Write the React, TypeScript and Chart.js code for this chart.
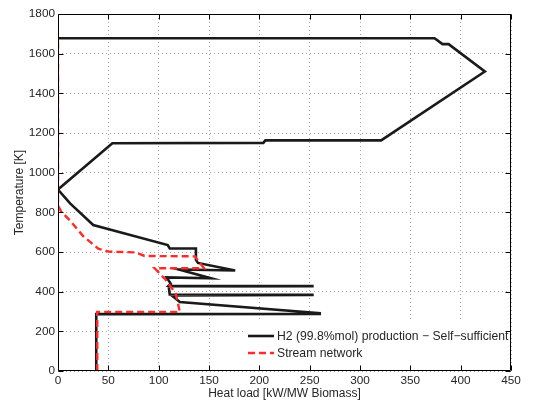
import React, { useEffect, useRef } from 'react';
import { Chart, registerables } from 'chart.js';

Chart.register(...registerables);

const FONT = '"Liberation Sans", Arial, Helvetica, sans-serif';
const TEXT = '#262626';

const xTicks = [0, 50, 100, 150, 200, 250, 300, 350, 400, 450];
const yTicks = [0, 200, 400, 600, 800, 1000, 1200, 1400, 1600, 1800];

const seriesLabels = ['H2 (99.8%mol) production \u2212 Self\u2212sufficient', 'Stream network'];

// Grand composite curve: heat load [kW/MW] vs temperature [K]
const blackLoad = [0, 374, 382, 388, 424, 321, 206, 204, 54, 0, 12, 35, 109, 111, 137, 137, 139, 176, 120, 152, 108, 112, 110, 254, 110, 111, 254, 113, 118, 121, 260, 260, 38, 38];
const blackTemp = [1678, 1678, 1648, 1648, 1510, 1163, 1163, 1150, 1148, 915, 845, 736, 635, 618, 618, 560, 545, 507, 512, 468, 472, 440, 430, 428, 426, 386, 384, 381, 360, 348, 292, 288, 287, 0];

// Stream network curve
const redLoad = [39, 39, 121, 117, 107, 96, 145, 136, 86, 77, 50, 40, 25, 12, 3, 0, 0];
const redTemp = [0, 298, 298, 390, 460, 518, 518, 578, 580, 598, 602, 617, 680, 758, 805, 835, 1678];

const toPoints = (xs: number[], ys: number[]) => xs.map((x, i) => ({ x, y: ys[i] }));

export default function App() {
  const ref = useRef<HTMLCanvasElement>(null);

  useEffect(() => {
    const canvas = ref.current;
    if (!canvas) return;

    const legendPlugin = {
      id: 'insideLegend',
      afterDatasetsDraw(chart: any) {
        const ctx = chart.ctx;
        const area = chart.chartArea;
        ctx.save();
        const bx = 243, by = 322;
        const bw = area.right - 1 - bx, bh = area.bottom - 1 - by;
        ctx.fillStyle = '#ffffff';
        ctx.fillRect(bx, by, bw, bh);
        chart.data.datasets.forEach((ds: any, i: number) => {
          const y = 336 + i * 17;
          ctx.beginPath();
          ctx.strokeStyle = ds.borderColor;
          ctx.lineWidth = ds.borderWidth;
          ctx.setLineDash(ds.borderDash || []);
          ctx.moveTo(248, y);
          ctx.lineTo(274, y);
          ctx.stroke();
          ctx.setLineDash([]);
          ctx.fillStyle = TEXT;
          ctx.font = `12.2px ${FONT}`;
          ctx.textBaseline = 'middle';
          ctx.textAlign = 'left';
          ctx.fillText(ds.label, 277, y + 0.5);
        });
        ctx.restore();
      },
    };

    const framePlugin = {
      id: 'frame',
      afterDraw(chart: any) {
        const ctx = chart.ctx;
        const a = chart.chartArea;
        const xs = chart.scales.x;
        const ys = chart.scales.y;
        const L = Math.round(a.left) + 0.5, R = Math.round(a.right) - 0.5;
        const T = Math.round(a.top) + 0.5, B = Math.round(a.bottom) - 0.5;
        ctx.save();
        ctx.strokeStyle = '#000';
        ctx.lineWidth = 1;
        ctx.beginPath();
        ctx.rect(L, T, R - L, B - T);
        const tl = 5;
        xTicks.forEach((v) => {
          const px = Math.round(xs.getPixelForValue(v)) + 0.5;
          ctx.moveTo(px, B);
          ctx.lineTo(px, B - tl);
          ctx.moveTo(px, T);
          ctx.lineTo(px, T + tl);
        });
        yTicks.forEach((v) => {
          const py = Math.round(ys.getPixelForValue(v)) + 0.5;
          ctx.moveTo(L, py);
          ctx.lineTo(L + tl, py);
          ctx.moveTo(R, py);
          ctx.lineTo(R - tl, py);
        });
        ctx.stroke();
        ctx.restore();
      },
    };

    const tickFont = { family: FONT, size: 11.8 };
    const titleFont = { family: FONT, size: 12 };

    const chart = new Chart(canvas, {
      type: 'scatter',
      data: {
        datasets: [
          {
            label: seriesLabels[0],
            data: toPoints(blackLoad, blackTemp),
            showLine: true,
            borderColor: '#1a1a1a',
            backgroundColor: '#1a1a1a',
            borderWidth: 2.6,
            pointRadius: 0,
            borderJoinStyle: 'miter',
            order: 1,
          },
          {
            label: seriesLabels[1],
            data: toPoints(redLoad, redTemp),
            showLine: true,
            borderColor: '#ff2a2a',
            backgroundColor: '#ff2a2a',
            borderWidth: 2.4,
            borderDash: [7, 4],
            pointRadius: 0,
            order: 0,
          },
        ],
      },
      options: {
        animation: false,
        responsive: false,
        devicePixelRatio: 1,
        layout: { padding: { top: 14, right: 22, left: 0, bottom: 0 } },
        plugins: { legend: { display: false }, tooltip: { enabled: false } },
        events: [],
        scales: {
          x: {
            type: 'linear',
            min: 0,
            max: 450,
            afterBuildTicks: (s: any) => { s.ticks = xTicks.map((v) => ({ value: v })); },
            afterFit: (s: any) => { s.height = 31; },
            ticks: { font: tickFont, color: TEXT, padding: 3, maxRotation: 0, autoSkip: false, callback: (v: any) => String(v) },
            grid: { color: 'rgba(0,0,0,0.35)', lineWidth: 1, drawTicks: false },
            border: { display: false, dash: [1, 3] },
            title: { display: true, text: 'Heat load [kW/MW Biomass]', font: titleFont, color: TEXT, padding: { top: 0, bottom: 1 } },
          },
          y: {
            type: 'linear',
            min: 0,
            max: 1800,
            afterBuildTicks: (s: any) => { s.ticks = yTicks.map((v) => ({ value: v })); },
            afterFit: (s: any) => { s.width = 58; },
            ticks: { font: tickFont, color: TEXT, padding: 3, autoSkip: false, callback: (v: any) => String(v) },
            grid: { color: 'rgba(0,0,0,0.35)', lineWidth: 1, drawTicks: false },
            border: { display: false, dash: [1, 3] },
            title: { display: true, text: 'Temperature [K]', font: titleFont, color: TEXT, padding: { top: 12, bottom: 0 } },
          },
        },
      },
      plugins: [legendPlugin, framePlugin],
    } as any);

    return () => chart.destroy();
  }, []);

  return (
    <div style={{ position: 'fixed', left: 0, top: 0, width: 533, height: 402, background: '#fff' }}>
      <canvas ref={ref} width={533} height={402} style={{ display: 'block' }} />
    </div>
  );
}
